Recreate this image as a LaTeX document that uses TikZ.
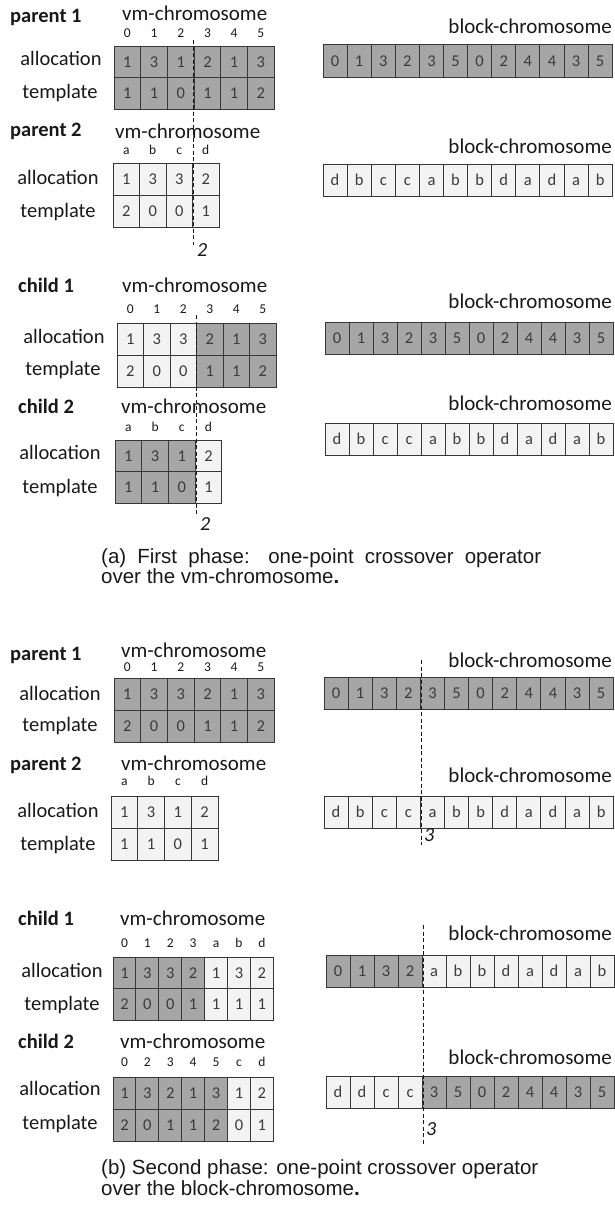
\documentclass[tikz,border=0pt]{standalone}
\usepackage{fontspec}
\setmainfont{Carlito}
\newfontfamily\capfont{Liberation Sans}
\definecolor{dkc}{RGB}{166,166,166}
\definecolor{ltc}{RGB}{243,243,243}
\definecolor{edge}{RGB}{55,55,55}
\definecolor{ink}{RGB}{25,25,25}
\tikzset{
 cellbase/.style={draw=edge, line width=0.9pt, inner sep=0pt, text=ink!85,
   font=\fontsize{16.5}{18}\selectfont, text height=10.6pt, text depth=0pt},
 dk/.style={cellbase, fill=dkc},
 lt/.style={cellbase, fill=ltc},
 idx/.style={inner sep=0pt, text=ink, font=\fontsize{13.5}{15}\selectfont, text height=9pt, text depth=0pt},
 rowlab/.style={inner sep=0pt, text=ink, font=\fontsize{20.5}{24}\selectfont, text height=14pt, text depth=4pt},
 ttl/.style={inner sep=0pt, anchor=west, text=ink, font=\fontsize{20.5}{24}\selectfont\bfseries, text height=14pt, text depth=4pt},
 chr/.style={inner sep=0pt, text=ink, font=\fontsize{21}{25}\selectfont, text height=14pt, text depth=4pt},
 cutline/.style={draw=ink, line width=0.8pt, dash pattern=on 4pt off 2.5pt},
 cutnum/.style={inner sep=0pt, anchor=west, text=ink, font=\fontsize{20}{24}\selectfont\itshape, text height=14pt, text depth=4pt},
 captxt/.style={inner sep=0pt, anchor=west, text=ink, font=\capfont\fontsize{20.5}{24}\selectfont, text height=15pt, text depth=4pt},
}
% #1 name, #2 x0, #3 y0, #4 w, #5 h, #6 list value/style
\newcommand\cellrow[6]{\foreach \v/\s [count=\i from 0] in {#6}{\node[\s, minimum width=#4pt, minimum height=#5pt] (#1\i) at ({#2+(\i+0.5)*#4},{#3+0.5*#5}) {\v};}}
% #1 name, #2 x0, #3 y, #4 w, #5 list
\newcommand\idxrow[5]{\foreach \v [count=\i from 0] in {#5}{\node[idx] (#1\i) at ({#2+(\i+0.5)*#4},#3) {\v};}}
\begin{document}
\begin{tikzpicture}[x=1pt,y=-1pt]
\useasboundingbox (0,0) rectangle (614,1205);
% ================= phase (a) =================
% parent 1
\node[ttl] (at1) at (10,17) {parent 1};
\node[chr,anchor=west] (avm1) at (122,15) {vm-chromosome};
\idxrow{ap1i}{114}{33}{26.7}{0,1,2,3,4,5}
\node[rowlab] (ap1al) at (61,60) {allocation};
\node[rowlab] (ap1tl) at (60,93) {template};
\cellrow{ap1a}{114}{46}{26.7}{31.5}{1/dk,3/dk,1/dk,2/dk,1/dk,3/dk}
\cellrow{ap1t}{114}{77.5}{26.7}{31.5}{1/dk,1/dk,0/dk,1/dk,1/dk,2/dk}
\node[chr,anchor=east] (abc1) at (612,28) {block-chromosome};
\cellrow{ap1b}{323}{44.5}{24.1}{32.5}{0/dk,1/dk,3/dk,2/dk,3/dk,5/dk,0/dk,2/dk,4/dk,4/dk,3/dk,5/dk}
% parent 2
\node[ttl] (at2) at (10,131) {parent 2};
\node[chr,anchor=west] (avm2) at (115,133) {vm-chromosome};
\idxrow{ap2i}{113}{150}{26.5}{a,b,c,d}
\node[rowlab] (ap2al) at (58,179) {allocation};
\node[rowlab] (ap2tl) at (58,212) {template};
\cellrow{ap2a}{113}{163}{26.5}{32}{1/lt,3/lt,3/lt,2/lt}
\cellrow{ap2t}{113}{195}{26.5}{32}{2/lt,0/lt,0/lt,1/lt}
\node[chr,anchor=east] (abc2) at (612,148) {block-chromosome};
\cellrow{ap2b}{323}{164}{24.1}{32}{d/lt,b/lt,c/lt,c/lt,a/lt,b/lt,b/lt,d/lt,a/lt,d/lt,a/lt,b/lt}
\coordinate (acutp1) at (193,40);
\coordinate (acutp2) at (193,245);
\draw[cutline] (acutp1) -- (acutp2);
\node[cutnum] (acutpn) at (197,251) {2};
% child 1
\node[ttl] (at3) at (18,287) {child 1};
\node[chr,anchor=west] (avm3) at (122,287) {vm-chromosome};
\idxrow{ac1i}{117}{309}{26.5}{0,1,2,3,4,5}
\node[rowlab] (ac1al) at (64,338) {allocation};
\node[rowlab] (ac1tl) at (63,370) {template};
\cellrow{ac1a}{117}{323}{26.5}{32}{1/lt,3/lt,3/lt,2/dk,1/dk,3/dk}
\cellrow{ac1t}{117}{355}{26.5}{32}{2/lt,0/lt,0/lt,1/dk,1/dk,2/dk}
\node[chr,anchor=east] (abc3) at (612,303) {block-chromosome};
\cellrow{ac1b}{325}{322}{24}{32}{0/dk,1/dk,3/dk,2/dk,3/dk,5/dk,0/dk,2/dk,4/dk,4/dk,3/dk,5/dk}
% child 2
\node[ttl] (at4) at (18,408) {child 2};
\node[chr,anchor=west] (avm4) at (121,408) {vm-chromosome};
\idxrow{ac2i}{115}{427}{26.7}{a,b,c,d}
\node[rowlab] (ac2al) at (60,454) {allocation};
\node[rowlab] (ac2tl) at (60,488) {template};
\cellrow{ac2a}{115}{440}{26.7}{31.5}{1/dk,3/dk,1/dk,2/lt}
\cellrow{ac2t}{115}{471.5}{26.7}{31.5}{1/dk,1/dk,0/dk,1/lt}
\node[chr,anchor=east] (abc4) at (612,405) {block-chromosome};
\cellrow{ac2b}{325}{423}{24}{32}{d/lt,b/lt,c/lt,c/lt,a/lt,b/lt,b/lt,d/lt,a/lt,d/lt,a/lt,b/lt}
\coordinate (acutc1) at (196,315);
\coordinate (acutc2) at (196,515);
\draw[cutline] (acutc1) -- (acutc2);
\node[cutnum] (acutcn) at (200,525) {2};
% caption (a)
\node[captxt] (capa1) at (101,558) {\makebox[440pt][s]{(a) First phase: one-point crossover operator}};
\node[captxt] (capa2) at (101,578) {over the vm-chromosome\textbf{.}};
% ================= phase (b) =================
% parent 1
\node[ttl] (bt1) at (10,655) {parent 1};
\node[chr,anchor=west] (bvm1) at (121,652) {vm-chromosome};
\idxrow{bp1i}{114}{667}{26.7}{0,1,2,3,4,5}
\node[rowlab] (bp1al) at (60,695) {allocation};
\node[rowlab] (bp1tl) at (60,726) {template};
\cellrow{bp1a}{114}{678}{26.7}{32}{1/dk,3/dk,3/dk,2/dk,1/dk,3/dk}
\cellrow{bp1t}{114}{710}{26.7}{32}{2/dk,0/dk,0/dk,1/dk,1/dk,2/dk}
\node[chr,anchor=east] (bbc1) at (612,662) {block-chromosome};
\cellrow{bp1b}{324}{677}{24.1}{32}{0/dk,1/dk,3/dk,2/dk,3/dk,5/dk,0/dk,2/dk,4/dk,4/dk,3/dk,5/dk}
% parent 2
\node[ttl] (bt2) at (10,765) {parent 2};
\node[chr,anchor=west] (bvm2) at (121,765) {vm-chromosome};
\idxrow{bp2i}{111}{781}{26.75}{a,b,c,d}
\node[rowlab] (bp2al) at (58,812) {allocation};
\node[rowlab] (bp2tl) at (58,845) {template};
\cellrow{bp2a}{111}{796}{26.75}{32}{1/lt,3/lt,1/lt,2/lt}
\cellrow{bp2t}{111}{828}{26.75}{32}{1/lt,1/lt,0/lt,1/lt}
\node[chr,anchor=east] (bbc2) at (612,777) {block-chromosome};
\cellrow{bp2b}{324}{796}{24.1}{32}{d/lt,b/lt,c/lt,c/lt,a/lt,b/lt,b/lt,d/lt,a/lt,d/lt,a/lt,b/lt}
\coordinate (bcutp1) at (421,660);
\coordinate (bcutp2) at (421,845);
\draw[cutline] (bcutp1) -- (bcutp2);
\node[cutnum] (bcutpn) at (424,836) {3};
% child 1
\node[ttl] (bt3) at (18,920) {child 1};
\node[chr,anchor=west] (bvm3) at (120,920) {vm-chromosome};
\idxrow{bc1i}{113}{943}{22.9}{0,1,2,3,a,b,d}
\node[rowlab] (bc1al) at (62,972) {allocation};
\node[rowlab] (bc1tl) at (62,1005) {template};
\cellrow{bc1a}{113}{957}{22.9}{31.5}{1/dk,3/dk,3/dk,2/dk,1/lt,3/lt,2/lt}
\cellrow{bc1t}{113}{988.5}{22.9}{31.5}{2/dk,0/dk,0/dk,1/dk,1/lt,1/lt,1/lt}
\node[chr,anchor=east] (bbc3) at (612,935) {block-chromosome};
\cellrow{bc1b}{326}{955}{24}{32}{0/dk,1/dk,3/dk,2/dk,a/lt,b/lt,b/lt,d/lt,a/lt,d/lt,a/lt,b/lt}
% child 2
\node[ttl] (bt4) at (18,1043) {child 2};
\node[chr,anchor=west] (bvm4) at (120,1043) {vm-chromosome};
\idxrow{bc2i}{113}{1062}{22.9}{0,2,3,4,5,c,d}
\node[rowlab] (bc2al) at (60,1090) {allocation};
\node[rowlab] (bc2tl) at (60,1124) {template};
\cellrow{bc2a}{113}{1077}{22.9}{32}{1/dk,3/dk,2/dk,1/dk,3/dk,1/lt,2/lt}
\cellrow{bc2t}{113}{1109}{22.9}{32}{2/dk,0/dk,1/dk,1/dk,2/dk,0/lt,1/lt}
\node[chr,anchor=east] (bbc4) at (612,1059) {block-chromosome};
\cellrow{bc2b}{326}{1076}{24}{32}{d/lt,d/lt,c/lt,c/lt,3/dk,5/dk,0/dk,2/dk,4/dk,4/dk,3/dk,5/dk}
\coordinate (bcutc1) at (423,925);
\coordinate (bcutc2) at (423,1145);
\draw[cutline] (bcutc1) -- (bcutc2);
\node[cutnum] (bcutcn) at (426,1130) {3};
% caption (b)
\node[captxt] (capb1) at (101,1169) {(b) Second phase: one-point crossover operator};
\node[captxt] (capb2) at (101,1190) {over the block-chromosome\textbf{.}};
\end{tikzpicture}
\end{document}
